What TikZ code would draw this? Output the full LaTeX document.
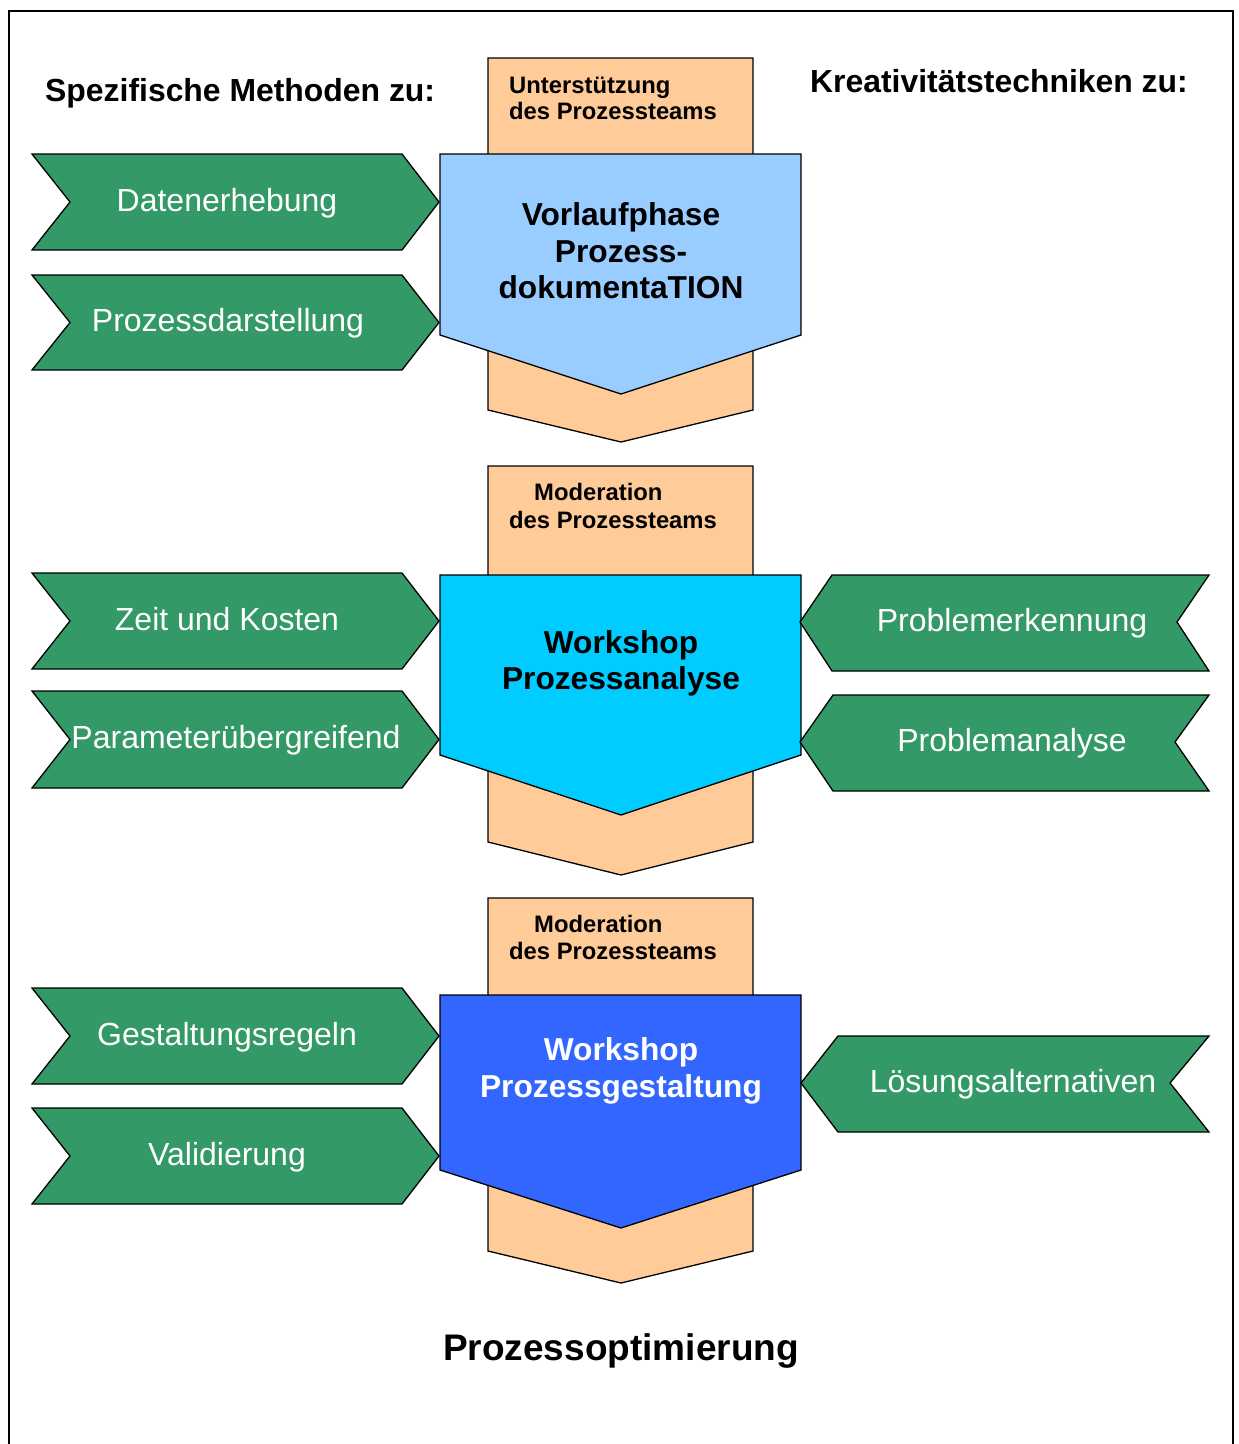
\documentclass[tikz,border=0pt]{standalone}
\usepackage{fontspec}
\setmainfont{Liberation Sans}
\definecolor{grn}{RGB}{51,153,102}
\definecolor{org}{RGB}{255,204,153}
\definecolor{lblue}{RGB}{153,204,255}
\definecolor{cyanb}{RGB}{0,204,255}
\definecolor{dblue}{RGB}{51,102,255}
\begin{document}
\begin{tikzpicture}[x=1pt,y=-1pt,
  shp/.style={draw=black,line width=1.3pt,line join=miter},
  chev/.style={shp,fill=grn},
  gtxt/.style={anchor=base,text=white,font=\fontsize{32}{36}\selectfont,inner sep=0pt},
  head/.style={anchor=base west,font=\bfseries\fontsize{31.9}{36}\selectfont,inner sep=0pt},
  otxt/.style={anchor=base west,font=\bfseries\fontsize{23.8}{27}\selectfont,inner sep=0pt},
  btxt/.style={anchor=base,font=\bfseries\fontsize{31.7}{36}\selectfont,inner sep=0pt}]
\useasboundingbox (0,0) rectangle (1239,1444);
\fill[white] (0,0) rectangle (1239,1444);
% frame
\draw[line width=2pt] (9,1450) -- (9,11) -- (1232.5,11) -- (1232.5,1450);

% orange backgrounds
\path[shp,fill=org] (488,58) -- (753,58) -- (753,410) -- (621,442) -- (488,410) -- cycle;
\path[shp,fill=org] (488,466) -- (753,466) -- (753,842) -- (621,875) -- (488,842) -- cycle;
\path[shp,fill=org] (488,898) -- (753,898) -- (753,1251) -- (621,1283) -- (488,1251) -- cycle;

% blue pentagons
\path[shp,fill=lblue] (440,154) -- (801,154) -- (801,335) -- (621,394) -- (440,335) -- cycle;
\path[shp,fill=cyanb] (440,575) -- (801,575) -- (801,755) -- (621,815) -- (440,755) -- cycle;
\path[shp,fill=dblue] (440,995) -- (801,995) -- (801,1170) -- (621,1228) -- (440,1170) -- cycle;

% left chevrons
\foreach \t/\b in {154/250,275/370,573/669,691/788,988/1084,1108/1204}{
  \pgfmathsetmacro\m{(\t+\b)/2}
  \path[chev] (32,\t) -- (402,\t) -- (439,\m) -- (402,\b) -- (32,\b) -- (70,\m) -- cycle;
}
% right chevrons
\path[chev] (832,575) -- (1209,575) -- (1177,622) -- (1209,671) -- (832,671) -- (800,622) -- cycle;
\path[chev] (833,695) -- (1209,695) -- (1175,742) -- (1209,791) -- (833,791) -- (800,742) -- cycle;
\path[chev] (838,1036) -- (1209,1036) -- (1170,1083) -- (1209,1132) -- (838,1132) -- (801,1083) -- cycle;

% headings
\node[head] (h1) at (45,101) {Spezifische Methoden zu:};
\node[head] (h2) at (810,92) {Kreativitätstechniken zu:};
\node[anchor=base,font=\bfseries\fontsize{37}{42}\selectfont,inner sep=0pt] (h3) at (621,1360) {Prozessoptimierung};

% orange texts
\node[otxt] (o1a) at (509,93) {Unterstützung};
\node[otxt] (o1b) at (509,119) {des Prozessteams};
\node[otxt] (o2a) at (534,500) {Moderation};
\node[otxt] (o2b) at (509,528) {des Prozessteams};
\node[otxt] (o3a) at (534,932) {Moderation};
\node[otxt] (o3b) at (509,959) {des Prozessteams};

% blue texts
\node[btxt] (b1a) at (621,225) {Vorlaufphase};
\node[btxt] (b1b) at (621,262) {Prozess-};
\node[btxt] (b1c) at (621,298) {dokumentaTION};
\node[btxt] (b2a) at (621,653) {Workshop};
\node[btxt] (b2b) at (621,689) {Prozessanalyse};
\node[btxt,text=white] (b3a) at (621,1060) {Workshop};
\node[btxt,text=white] (b3b) at (621,1097) {Prozessgestaltung};

% chevron texts
\node[gtxt] (g1) at (227,211) {Datenerhebung};
\node[gtxt] (g2) at (228,331) {Prozessdarstellung};
\node[gtxt] (g3) at (227,630) {Zeit und Kosten};
\node[gtxt] (g4) at (236,748) {Parameterübergreifend};
\node[gtxt] (g5) at (227,1045) {Gestaltungsregeln};
\node[gtxt] (g6) at (227,1165) {Validierung};
\node[gtxt] (r1) at (1012,631) {Problemerkennung};
\node[gtxt] (r2) at (1012,751) {Problemanalyse};
\node[gtxt] (r3) at (1013,1092) {Lösungsalternativen};
\end{tikzpicture}
\end{document}
